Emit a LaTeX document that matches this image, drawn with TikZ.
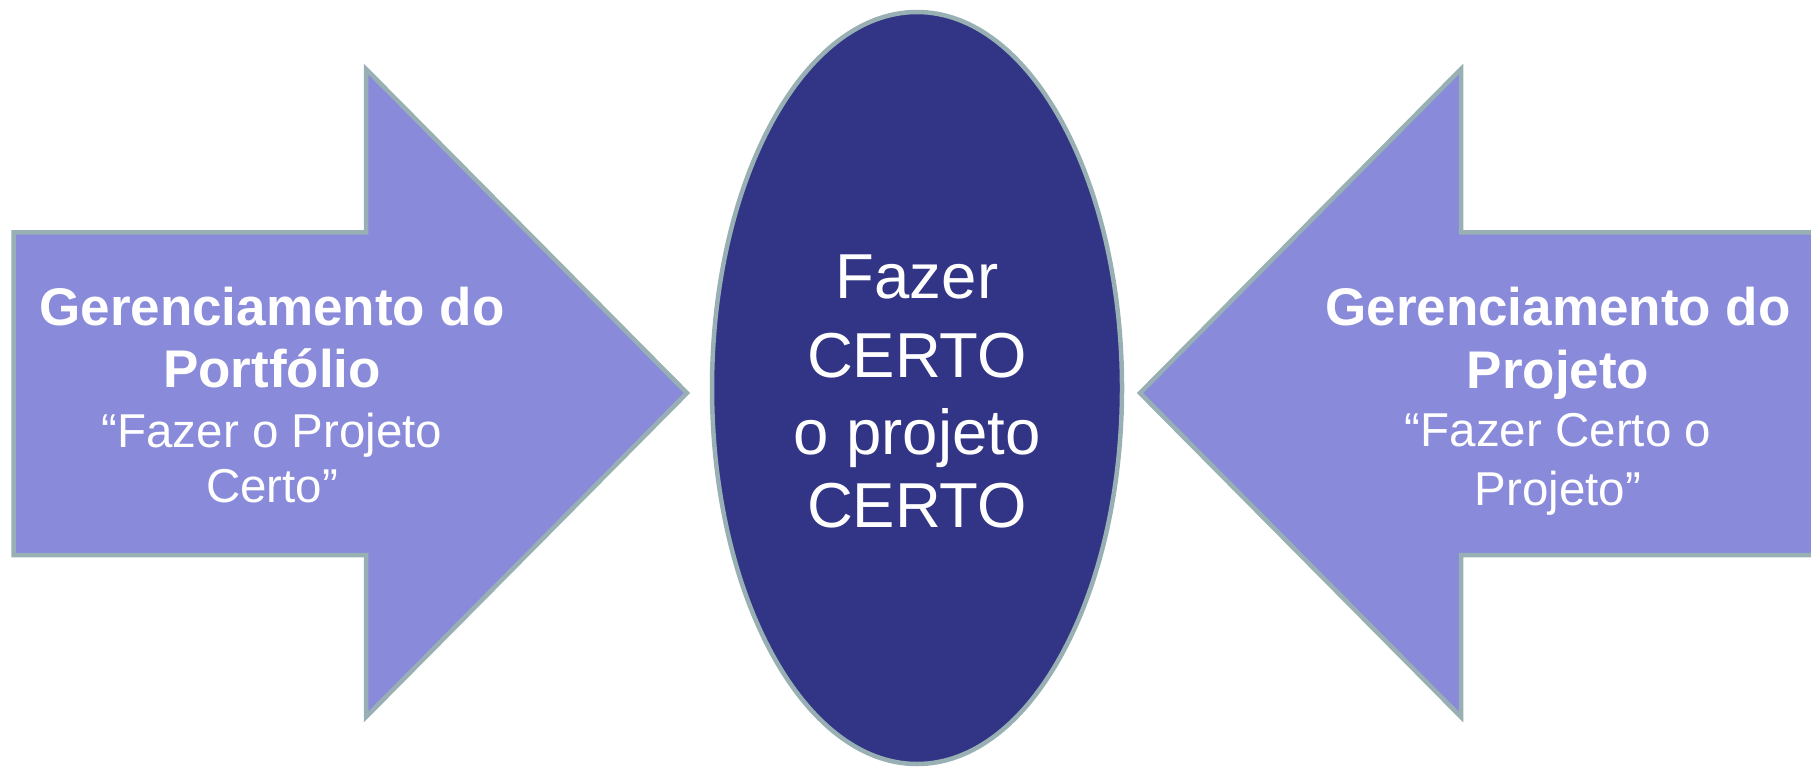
\documentclass[tikz,border=0pt]{standalone}
\usepackage{fontspec}
\setmainfont{Liberation Sans}
\definecolor{arrowfill}{RGB}{137,139,218}
\definecolor{hubfill}{RGB}{50,53,133}
\definecolor{rim}{RGB}{152,176,180}
\tikzset{
  blockarrow/.style={fill=arrowfill, draw=rim, line width=4.5pt, line join=miter},
  hub/.style={fill=hubfill, draw=rim, line width=4.5pt},
  headtxt/.style={text=white, anchor=base, inner sep=0pt, font=\fontsize{53}{62}\selectfont\bfseries},
  quotetxt/.style={text=white, anchor=base, inner sep=0pt, font=\fontsize{47.5}{56}\selectfont},
  hubtxt/.style={text=white, anchor=base, inner sep=0pt, font=\fontsize{63.5}{76}\selectfont}
}
\begin{document}
\begin{tikzpicture}[x=1pt,y=-1pt]
  \useasboundingbox (0,0) rectangle (1811,767);
  % left arrow
  \draw[blockarrow](13.5,232.5)--(366,232.5)--(366,69)--(687,393)--(366,717)--(366,555)--(13.5,555)--cycle;
  % right arrow, its tail runs off the page
  \draw[blockarrow](1830,232.5)--(1461,232.5)--(1461,69)--(1140,393)--(1461,717)--(1461,555)--(1830,555)--cycle;
  % centre ellipse
  \draw[hub](917,388) ellipse (205pt and 376pt);

  \node[headtxt] (port1) at (272,325) {Gerenciamento do};
  \node[headtxt] (port2) at (272,387) {Portfólio};
  \node[quotetxt] (port3) at (272,447) {“Fazer o Projeto};
  \node[quotetxt] (port4) at (272,502) {Certo”};

  \node[hubtxt] (hub1) at (917,298) {Fazer};
  \node[hubtxt] (hub2) at (917,377) {CERTO};
  \node[hubtxt] (hub3) at (917,454) {o projeto};
  \node[hubtxt] (hub4) at (917,527) {CERTO};

  \node[headtxt] (proj1) at (1558,325) {Gerenciamento do};
  \node[headtxt] (proj2) at (1558,388) {Projeto};
  \node[quotetxt] (proj3) at (1558,446) {“Fazer Certo o};
  \node[quotetxt] (proj4) at (1558,505) {Projeto”};
\end{tikzpicture}
\end{document}
